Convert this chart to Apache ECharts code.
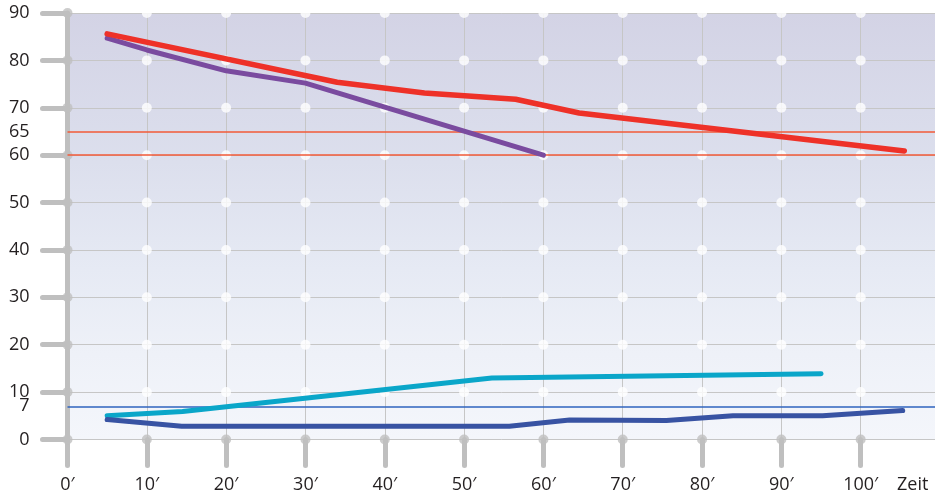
<!DOCTYPE html>
<html>
<head>
<meta charset="utf-8">
<script src="https://cdn.jsdelivr.net/npm/echarts@6/dist/echarts.min.js"></script>
<style>
  html, body { margin: 0; padding: 0; background: #ffffff; }
  #chart { width: 935px; height: 494px; }
</style>
</head>
<body>
<div id="chart"></div>
<script>
// ---- data ----
const xTicks = [0, 10, 20, 30, 40, 50, 60, 70, 80, 90, 100];
const yTicks = [0, 10, 20, 30, 40, 50, 60, 70, 80, 90];
const yLabels = [0, 7, 10, 20, 30, 40, 50, 60, 65, 70, 80, 90];
const xAxisTitle = 'Zeit';

const redMinutes = [5, 34, 45, 56.5, 64.5, 105.5];
const redValues = [85.6, 75.4, 73.1, 71.8, 68.9, 60.9];

const purpleMinutes = [5, 10, 20, 30, 60];
const purpleValues = [84.7, 82.2, 77.8, 75.2, 60];

const cyanMinutes = [5, 14.5, 53.5, 95];
const cyanValues = [5.0, 5.9, 13.0, 13.9];

const navyMinutes = [5, 14.4, 55.7, 63.3, 75.5, 83.9, 95.2, 105.3];
const navyValues = [4.2, 2.8, 2.8, 4.1, 4.0, 5.0, 5.0, 6.1];

const redRefLines = [65, 60];
const blueRefLines = [7];

// ---- build ----
const pairs = (xs, ys) => xs.map((x, i) => [x, ys[i]]);
const whiteDots = [];
xTicks.filter(x => x > 0).forEach(x => yTicks.filter(y => y > 0).forEach(y => whiteDots.push([x, y])));
const grayDots = xTicks.map(x => [x, 0]).concat(yTicks.filter(y => y > 0).map(y => [0, y]));

const gray = '#bfbfbf';
const font = 'Open Sans';

const chart = echarts.init(document.getElementById('chart'));
chart.setOption({
  animation: false,
  grid: {
    left: 67.5, right: -5, top: 13, bottom: 54.5,
    outerBoundsMode: 'none', containLabel: false,
    show: true, borderWidth: 0,
    backgroundColor: new echarts.graphic.LinearGradient(0, 0, 0, 1, [
      { offset: 0, color: '#d3d3e5' },
      { offset: 0.35, color: '#dcdfed' },
      { offset: 0.6, color: '#e6eaf4' },
      { offset: 0.8, color: '#eef1f8' },
      { offset: 1, color: '#f4f6fb' }
    ])
  },
  xAxis: {
    type: 'value', min: 0, max: 110, interval: 10,
    axisLine: { show: false },
    axisTick: { show: true, length: 26, lineStyle: { color: gray, width: 5, cap: 'round' } },
    axisLabel: {
      margin: 36, fontSize: 18, color: '#231f20', fontFamily: font,
      formatter: v => (v <= 100 ? v + '\u2032' : '')
    },
    splitLine: { show: true, lineStyle: { color: '#c6c6c6', width: 1 } }
  },
  yAxis: {
    type: 'value', min: 0, max: 90, interval: 10,
    axisLine: { show: true, lineStyle: { color: gray, width: 5, cap: 'round' } },
    axisTick: { show: true, length: 25, lineStyle: { color: gray, width: 5, cap: 'round' } },
    axisLabel: {
      margin: 38, fontSize: 18, color: '#231f20', fontFamily: font,
      customValues: yLabels
    },
    splitLine: { show: true, lineStyle: { color: '#c6c6c6', width: 1 } }
  },
  graphic: [{
    type: 'text', left: 897, top: 476, z: 10,
    style: { text: xAxisTitle, fontSize: 18, fontFamily: font, fill: '#231f20' }
  }],
  series: [
    {
      type: 'line', data: [], z: 1, silent: true,
      markLine: {
        symbol: 'none', silent: true, label: { show: false },
        data: redRefLines.map(v => ({ yAxis: v, lineStyle: { color: '#f25a38', width: 1.5, type: 'solid' } }))
          .concat(blueRefLines.map(v => ({ yAxis: v, lineStyle: { color: '#2e63be', width: 1.5, type: 'solid' } })))
      }
    },
    {
      type: 'scatter', data: whiteDots, symbolSize: 10, z: 3, clip: false, silent: true,
      itemStyle: { color: '#ffffff' }
    },
    {
      type: 'scatter', data: grayDots, symbolSize: 10, z: 3, clip: false, silent: true,
      itemStyle: { color: gray }
    },
    {
      type: 'line', data: pairs(purpleMinutes, purpleValues), z: 5, showSymbol: false,
      lineStyle: { color: '#7a4b9f', width: 5, cap: 'round', join: 'round' }
    },
    {
      type: 'line', data: pairs(redMinutes, redValues), z: 6, showSymbol: false,
      lineStyle: { color: '#ee3128', width: 5.5, cap: 'round', join: 'round' }
    },
    {
      type: 'line', data: pairs(cyanMinutes, cyanValues), z: 5, showSymbol: false,
      lineStyle: { color: '#0aa6c9', width: 5, cap: 'round', join: 'round' }
    },
    {
      type: 'line', data: pairs(navyMinutes, navyValues), z: 5, showSymbol: false,
      lineStyle: { color: '#3853a3', width: 5, cap: 'round', join: 'round' }
    }
  ]
});
</script>
</body>
</html>
